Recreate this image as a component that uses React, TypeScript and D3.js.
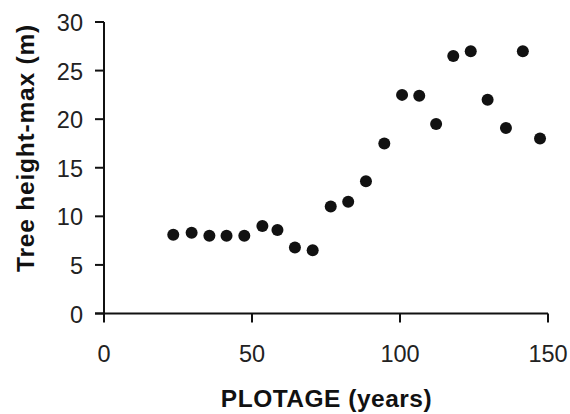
import React from "react";
import * as d3 from "d3";

// Stand age (years) and maximum tree height (m) per plot
const plotAge = [23.4, 29.6, 35.6, 41.4, 47.4, 53.5, 58.6, 64.5, 70.5, 76.6, 82.5, 88.5, 94.7, 100.7, 106.5, 112.2, 118.0, 123.9, 129.6, 135.8, 141.5, 147.3];
const maxHeight = [8.1, 8.3, 8.0, 8.0, 8.0, 9.0, 8.6, 6.8, 6.5, 11.0, 11.5, 13.6, 17.5, 22.5, 22.4, 19.5, 26.5, 27.0, 22.0, 19.1, 27.0, 18.0];

const xTicks = [0, 50, 100, 150];
const yTicks = [0, 5, 10, 15, 20, 25, 30];

const xTitle = "PLOTAGE (years)";
const yTitle = "Tree height-max (m)";

const W = 570;
const H = 414;
const FONT = "'Liberation Sans', Arial, Helvetica, sans-serif";
const INK = "#111";

export default function App() {
  const x = d3.scaleLinear().domain([0, 150]).range([104, 548]);
  const y = d3.scaleLinear().domain([0, 30]).range([313.5, 22]);
  const x0 = x(0);
  const y0 = y(0);

  return (
    <svg
      width={W}
      height={H}
      viewBox={`0 0 ${W} ${H}`}
      style={{ position: "absolute", left: 0, top: 0, background: "#fff" }}
    >
      <rect width={W} height={H} fill="#fff" />

      {/* y axis */}
      <line x1={x0} x2={x0} y1={y(30)} y2={y0} stroke={INK} strokeWidth={2} />
      {yTicks.map((t) => (
        <g key={`y${t}`}>
          <line x1={x0 - 9} x2={x0} y1={y(t)} y2={y(t)} stroke={INK} strokeWidth={2} />
          <text
            x={83}
            y={y(t) + 1}
            textAnchor="end"
            dominantBaseline="central"
            fontFamily={FONT}
            fontSize={23.5}
            fill="#222"
          >
            {t}
          </text>
        </g>
      ))}

      {/* x axis */}
      <line x1={x0 - 9} x2={x(150)} y1={y0} y2={y0} stroke={INK} strokeWidth={2} />
      {xTicks.map((t) => (
        <g key={`x${t}`}>
          <line x1={x(t)} x2={x(t)} y1={y0} y2={y0 + 9} stroke={INK} strokeWidth={2} />
          <text
            x={x(t)}
            y={362}
            textAnchor="middle"
            fontFamily={FONT}
            fontSize={23.5}
            fill="#222"
          >
            {t}
          </text>
        </g>
      ))}

      {/* axis titles */}
      <text
        x={326.5}
        y={406.5}
        textAnchor="middle"
        fontFamily={FONT}
        fontWeight="bold"
        fontSize={24.5}
        letterSpacing={0.5}
        fill={INK}
      >
        {xTitle}
      </text>
      <text
        transform={`translate(33.5, 148) rotate(-90)`}
        textAnchor="middle"
        fontFamily={FONT}
        fontWeight="bold"
        fontSize={24.5}
        letterSpacing={0.8}
        fill={INK}
      >
        {yTitle}
      </text>

      {/* points */}
      {plotAge.map((a, i) => (
        <circle key={i} cx={x(a)} cy={y(maxHeight[i])} r={6} fill={INK} />
      ))}
    </svg>
  );
}
